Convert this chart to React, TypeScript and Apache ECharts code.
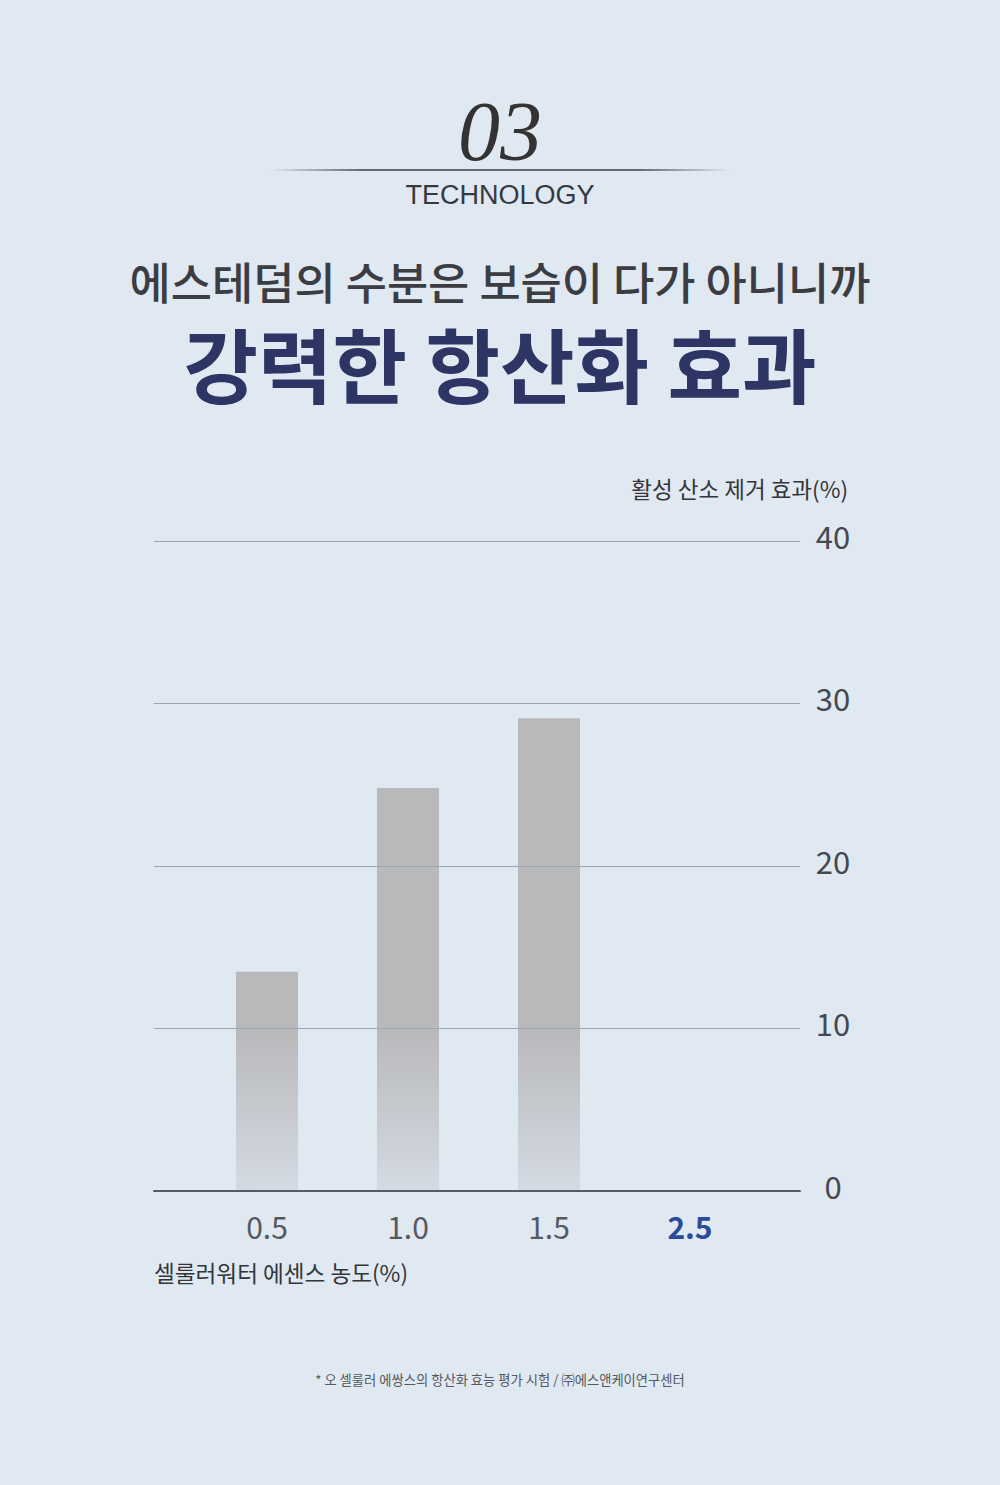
import React, { useEffect, useRef } from "react";
import * as echarts from "echarts";

const categories = ["0.5", "1.0", "1.5", "2.5"];
const values: (number | null)[] = [13.5, 24.8, 29.1, null];
const yTicks = [0, 10, 20, 30, 40];
const highlightCategory = "2.5";

const FONT = "'Noto Sans CJK KR', 'Noto Sans', sans-serif";

export default function App() {
  const ref = useRef<HTMLDivElement>(null);
  useEffect(() => {
    document.body.style.margin = "0";
    const chart = echarts.init(ref.current!, undefined, { renderer: "svg" });
    const yMin = yTicks[0];
    const yMax = yTicks[yTicks.length - 1];
    const yInterval = yTicks[1] - yTicks[0];
    chart.setOption({
      animation: false,
      backgroundColor: "#e0e8f2",
      grid: [
        { left: 154, right: 200, top: 541, bottom: 294 },
        { left: 196.5, right: 239.5, top: 541, bottom: 294 },
      ],
      xAxis: [
        {
          gridIndex: 0,
          type: "value",
          min: 0,
          max: 1,
          z: 10,
          axisLine: { show: true, lineStyle: { color: "#565c64", width: 2 } },
          axisTick: { show: false },
          axisLabel: { show: false },
          splitLine: { show: false },
        },
        {
          gridIndex: 1,
          type: "category",
          data: categories,
          axisLine: { show: false },
          axisTick: { show: false },
          axisLabel: {
            margin: 20,
            fontFamily: FONT,
            fontSize: 30,
            color: "#555a60",
            formatter: (v: string) => (v === highlightCategory ? `{hl|${v}}` : v),
            rich: {
              hl: {
                fontFamily: FONT,
                fontSize: 30,
                fontWeight: "bold",
                color: "#2b4a9a",
              },
            },
          },
        },
      ],
      yAxis: [
        {
          gridIndex: 0,
          type: "value",
          position: "right",
          min: yMin,
          max: yMax,
          interval: yInterval,
          z: 10,
          axisLine: { show: false },
          axisTick: { show: false },
          axisLabel: {
            margin: 33,
            align: "center",
            verticalAlign: "bottom",
            lineHeight: 12,
            fontFamily: FONT,
            fontSize: 31,
            color: "#45494f",
          },
          splitLine: { show: true, lineStyle: { color: "#9ea7b1", width: 1 } },
        },
        {
          gridIndex: 1,
          type: "value",
          min: yMin,
          max: yMax,
          show: false,
        },
      ],
      series: [
        {
          type: "bar",
          xAxisIndex: 1,
          yAxisIndex: 1,
          data: values,
          barWidth: 62,
          itemStyle: {
            color: new echarts.graphic.LinearGradient(
              0,
              1030,
              0,
              1191,
              [
                { offset: 0, color: "#b8b9bb" },
                { offset: 1, color: "#d4dae3" },
              ],
              true
            ),
          },
        },
      ],
      graphic: [
        {
          type: "text",
          x: 500,
          y: 131,
          style: {
            text: "03",
            fontFamily: "'Liberation Serif', serif",
            fontStyle: "italic",
            fontSize: 84,
            fill: "#333333",
            align: "center",
            verticalAlign: "middle",
          },
        },
        {
          type: "rect",
          shape: { x: 270, y: 169, width: 460, height: 2 },
          style: {
            fill: new echarts.graphic.LinearGradient(0, 0, 1, 0, [
              { offset: 0, color: "rgba(74,82,96,0)" },
              { offset: 0.2, color: "rgba(74,82,96,0.85)" },
              { offset: 0.8, color: "rgba(74,82,96,0.85)" },
              { offset: 1, color: "rgba(74,82,96,0)" },
            ]),
          },
        },
        {
          type: "text",
          x: 500,
          y: 195,
          style: {
            text: "TECHNOLOGY",
            fontFamily: "'Liberation Sans', Arial, sans-serif",
            fontSize: 27,
            fill: "#363a40",
            align: "center",
            verticalAlign: "middle",
          },
        },
        {
          type: "text",
          x: 500,
          y: 280,
          style: {
            text: "에스테덤의 수분은 보습이 다가 아니니까",
            fontFamily: FONT,
            fontSize: 44.8,
            fontWeight: 500,
            fill: "#3b3d42",
            align: "center",
            verticalAlign: "middle",
          },
        },
        {
          type: "text",
          x: 500,
          y: 361,
          style: {
            text: "강력한 항산화 효과",
            fontFamily: FONT,
            fontSize: 81,
            fontWeight: "bold",
            fill: "#2c3563",
            align: "center",
            verticalAlign: "middle",
          },
        },
        {
          type: "text",
          x: 848,
          y: 488,
          style: {
            text: "활성 산소 제거 효과(%)",
            fontFamily: FONT,
            fontSize: 22.5,
            fill: "#333639",
            align: "right",
            verticalAlign: "middle",
          },
        },
        {
          type: "text",
          x: 154,
          y: 1272,
          style: {
            text: "셀룰러워터 에센스 농도(%)",
            fontFamily: FONT,
            fontSize: 22.6,
            fill: "#333639",
            align: "left",
            verticalAlign: "middle",
          },
        },
        {
          type: "text",
          x: 500,
          y: 1379,
          style: {
            text: "* 오 셀룰러 에쌍스의 항산화 효능 평가 시험 / ㈜에스앤케이연구센터",
            fontFamily: FONT,
            fontSize: 13.3,
            fill: "#55585c",
            align: "center",
            verticalAlign: "middle",
          },
        },
      ],
    });
    return () => chart.dispose();
  }, []);
  return <div ref={ref} style={{ width: 1000, height: 1485 }} />;
}
